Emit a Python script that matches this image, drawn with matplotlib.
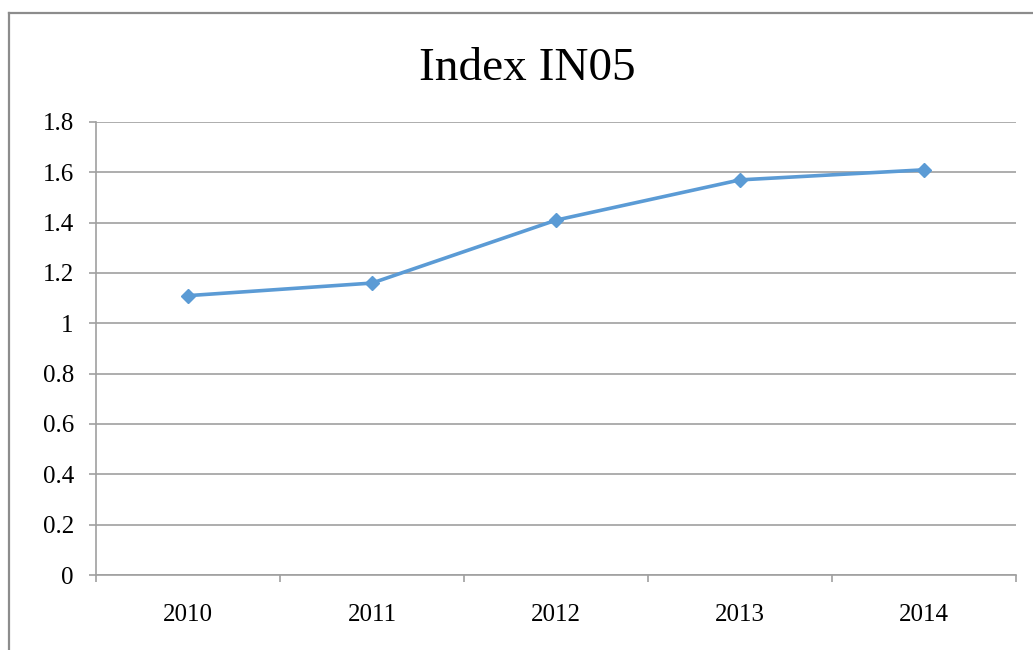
import matplotlib
matplotlib.use("Agg")
import matplotlib.pyplot as plt
import numpy as np
from matplotlib.lines import Line2D

years = ["2010", "2011", "2012", "2013", "2014"]
values = [1.11, 1.16, 1.41, 1.57, 1.61]
y_ticks = [0, 0.2, 0.4, 0.6, 0.8, 1, 1.2, 1.4, 1.6, 1.8]
y_labels = ["0", "0.2", "0.4", "0.6", "0.8", "1", "1.2", "1.4", "1.6", "1.8"]

plt.rcParams["font.family"] = ["Liberation Serif", "DejaVu Serif"]

W, H = 1033, 650
fig = plt.figure(figsize=(W / 100, H / 100), dpi=100)
fig.patch.set_facecolor("white")

# outer chart border (only left and top are visible in the crop)
fx, fy = 9 / W, 1 - 13 / H
fig.add_artist(Line2D([fx, fx], [0, fy], color="#8c8c8c", lw=1.6,
                      transform=fig.transFigure))
fig.add_artist(Line2D([fx, 1], [fy, fy], color="#8c8c8c", lw=1.6,
                      transform=fig.transFigure))

ax = fig.add_axes([96 / W, 1 - 575 / H, (1016 - 96) / W, (575 - 122) / H])

grid_col = "#a0a0a0"
x = np.arange(len(years))
ax.plot(x, values, color="#5b9bd5", lw=2.6, marker="D", markersize=7.5,
        markerfacecolor="#5b9bd5", markeredgecolor="#5b9bd5", zorder=3,
        clip_on=False)

ax.set_xlim(-0.5, len(years) - 0.5)
ax.set_ylim(0, 1.8)

ax.set_yticks(y_ticks)
ax.set_yticklabels(y_labels)
ax.yaxis.grid(True, color=grid_col, lw=1.2)
ax.set_axisbelow(True)

# category boundaries get the tick marks, centres get the labels
ax.set_xticks(np.arange(-0.5, len(years), 1.0))
ax.set_xticklabels([])
ax.set_xticks(x, minor=True)
ax.set_xticklabels(years, minor=True)
ax.tick_params(axis="x", which="minor", length=0, pad=21, labelsize=18)
ax.tick_params(axis="x", which="major", length=5, width=1.2, color=grid_col)
ax.tick_params(axis="y", length=5, width=1.2, color=grid_col, pad=11,
               labelsize=18)

for s in ["top", "right"]:
    ax.spines[s].set_visible(False)
for s in ["left", "bottom"]:
    ax.spines[s].set_color(grid_col)
    ax.spines[s].set_linewidth(1.2)

fig.text(527 / W, 1 - 80 / H, "Index IN05", fontsize=34, ha="center",
         va="baseline")

fig.savefig("out.png", dpi=100)
